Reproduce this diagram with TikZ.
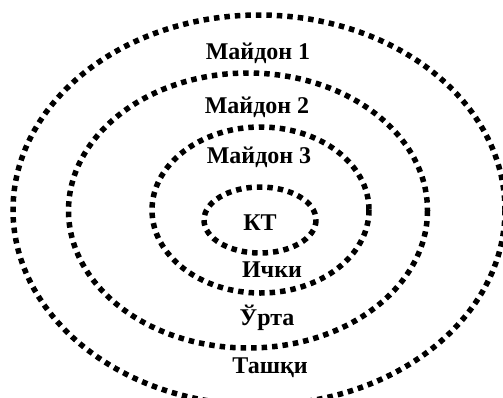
\documentclass[tikz,border=0pt]{standalone}
\usepackage{fontspec}
\setmainfont{Liberation Serif}
\begin{document}
\begin{tikzpicture}[x=1pt,y=-1pt,
  ring/.style={draw=black,line width=5.5pt,dash pattern=on 5.5pt off 5pt},
  lbl/.style={font=\bfseries\fontsize{24}{26}\selectfont,anchor=base,inner sep=0pt}]
\useasboundingbox (0,0) rectangle (503,397);
\draw[ring] (259,210) ellipse [x radius=246, y radius=195];
\draw[ring] (248,210.5) ellipse [x radius=179.5, y radius=137.5];
\draw[ring] (260.5,210) ellipse [x radius=108.5, y radius=83];
\draw[ring] (260,220) ellipse [x radius=56, y radius=33];
\node[lbl] (m1) at (258,59) {Майдон 1};
\node[lbl] (m2) at (257,113) {Майдон 2};
\node[lbl] (m3) at (259,163) {Майдон 3};
\node[lbl] (kt) at (260,230) {КТ};
\node[lbl] (ichki) at (272,277) {Ички};
\node[lbl] (urta) at (267,325) {Ўрта};
\node[lbl] (tashqi) at (270,373) {Ташқи};
\end{tikzpicture}
\end{document}
